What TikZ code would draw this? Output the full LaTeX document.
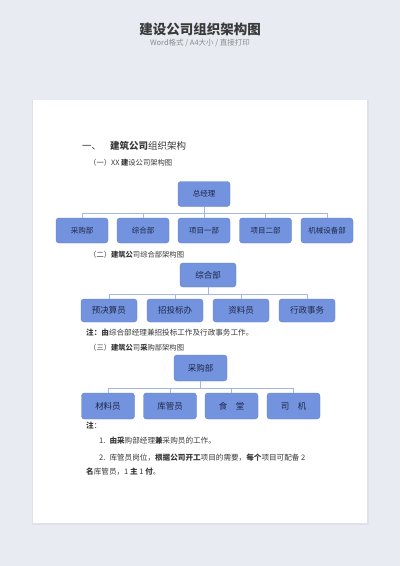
\documentclass[tikz,border=0pt]{standalone}
\usepackage{fontspec}
\setmainfont{Noto Sans CJK SC}
\definecolor{pagebg}{HTML}{E8ECF2}
\definecolor{shadowc}{HTML}{DDE2EA}
\definecolor{titlegray}{HTML}{3A3A3A}
\definecolor{subgray}{HTML}{8A8A8A}
\definecolor{bodygray}{HTML}{383838}
\definecolor{boxfill}{HTML}{7393DE}
\definecolor{boxedge}{HTML}{5F7FD5}
\definecolor{boxtext}{HTML}{1E2748}
\definecolor{linkblue}{HTML}{A3B5EA}
\tikzset{
orgbox/.style={draw=boxedge,fill=boxfill,rounded corners=3pt,minimum width=52pt,minimum height=25pt,inner sep=1pt,text=boxtext,font=\fontsize{7.5}{9}\selectfont},
bigbox/.style={orgbox,font=\fontsize{8.5}{10}\selectfont},
link/.style={draw=linkblue,line width=0.6pt},
bodytext/.style={anchor=west,inner sep=0pt,text=bodygray,font=\fontsize{7.6}{9}\selectfont},
subhead/.style={bodytext,font=\fontsize{7.3}{9}\selectfont},
}
\begin{document}
\begin{tikzpicture}[x=1pt,y=-1pt]
\useasboundingbox (0,0) rectangle (400,566);
\fill[pagebg] (0,0) rectangle (400,566);
\fill[shadowc] (31.5,99.5) rectangle (368.5,525);
\fill[white] (33,100) rectangle (367,523);
\node[font=\bfseries\fontsize{13.5}{15}\selectfont,text=titlegray] (title) at (200,29) {建设公司组织架构图};
\node[font=\fontsize{7.5}{9}\selectfont,text=subgray] (subtitle) at (200,43) {Word格式 / A4大小 / 直接打印};
\node[bodytext,font=\fontsize{9.5}{11}\selectfont] (head) at (82,146) {一、\hspace{9pt}\textbf{建筑公司}组织架构};
\node[subhead] (suba) at (89,163) {（一）XX \textbf{建}设公司架构图};
\node[orgbox] (gm) at (204,194) {总经理};
\coordinate (busal) at (82,213);
\coordinate (busar) at (327,213);
\draw[link] (busal) -- (busar);
\draw[link] (gm.south) -- (gm.south |- busal);
\foreach \nm/\cx/\lb in {cg/82/采购部,zh/143/综合部,xa/204/项目一部,xb/265.5/项目二部,jx/327/机械设备部}{\node[orgbox] (\nm) at (\cx,230.5) {\lb};\draw[link] (\nm.north) -- (\nm.north |- busal);}
\node[subhead] (subb) at (89,255) {（二）\textbf{建筑公}司综合部架构图};
\node[bigbox,minimum width=56pt,minimum height=24pt] (zhtop) at (208,275) {综合部};
\coordinate (busbl) at (109,294);
\coordinate (busbr) at (307,294);
\draw[link] (busbl) -- (busbr);
\draw[link] (zhtop.south) -- (zhtop.south |- busbl);
\foreach \nm/\cx/\lb in {ys/109/预决算员,zt/175/招投标办,zl/241/资料员,xz/307/行政事务}{\node[bigbox,minimum width=56pt,minimum height=23pt] (\nm) at (\cx,310.5) {\lb};\draw[link] (\nm.north) -- (\nm.north |- busbl);}
\node[bodytext] (noteb) at (86,333) {\textbf{注：由}综合部经理兼招投标工作及行政事务工作。};
\node[subhead] (subc) at (89,348) {（三）\textbf{建筑公}司\textbf{采}购部架构图};
\node[bigbox,minimum width=53pt,minimum height=26pt] (cgtop) at (200.5,368) {采购部};
\coordinate (buscl) at (108,388);
\coordinate (buscr) at (293.5,388);
\draw[link] (buscl) -- (buscr);
\draw[link] (cgtop.south) -- (cgtop.south |- buscl);
\foreach \nm/\cx/\lb in {cl/108/材料员,kg/170/库管员,st/231.5/食\hspace{1em}堂,sj/293.5/司\hspace{1em}机}{\node[bigbox,minimum width=53pt,minimum height=26pt] (\nm) at (\cx,406) {\lb};\draw[link] (\nm.north) -- (\nm.north |- buscl);}
\node[bodytext] (notec) at (86,426) {\textbf{注}：};
\node[bodytext] (notec1) at (99,441) {1.\hspace{4pt}\textbf{由采}购部经理\textbf{兼}采购员的工作。};
\node[bodytext] (notec2) at (99,458) {2.\hspace{4pt}库管员岗位，\textbf{根据公司开工}项目的需要，\textbf{每个}项目可配备 2};
\node[bodytext] (notec3) at (86,472) {\textbf{名}库管员，1 \textbf{主} 1 \textbf{付}。};
\end{tikzpicture}
\end{document}
